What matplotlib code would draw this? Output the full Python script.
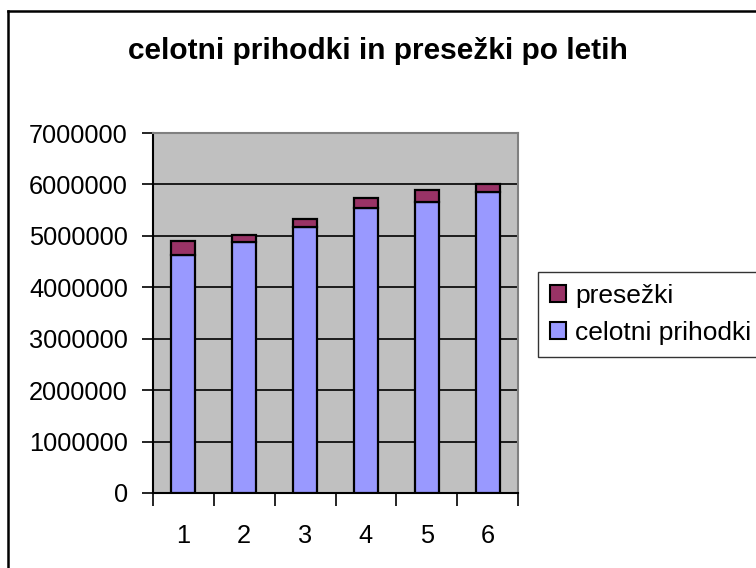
import matplotlib
matplotlib.use("Agg")
import matplotlib.pyplot as plt
from matplotlib.patches import Patch
from matplotlib.lines import Line2D

# Data
leta = ['1', '2', '3', '4', '5', '6']
celotni_prihodki = [4633000, 4886000, 5166000, 5541000, 5664000, 5847000]
presezki = [267000, 136000, 162000, 189000, 227000, 167000]
y_ticks = [0, 1000000, 2000000, 3000000, 4000000, 5000000, 6000000, 7000000]
title = 'celotni prihodki in presežki po letih'
series_names = ['presežki', 'celotni prihodki']

W, H = 756, 568
plt.rcParams['font.family'] = ['Liberation Sans', 'DejaVu Sans']
fig = plt.figure(figsize=(W / 100, H / 100), dpi=100)
fig.patch.set_facecolor('white')

ax = fig.add_axes([153 / W, 1 - 493 / H, (518 - 153) / W, (493 - 133) / H])
ax.set_facecolor('#C0C0C0')

x = list(range(len(leta)))
c_blue = '#9999FF'
c_purple = '#993366'
ax.bar(x, celotni_prihodki, width=0.395, color=c_blue, edgecolor='black',
       linewidth=1.6, zorder=3)
ax.bar(x, presezki, width=0.395, bottom=celotni_prihodki, color=c_purple,
       edgecolor='black', linewidth=1.6, zorder=3)

ax.set_xlim(-0.5, len(leta) - 0.5)
ax.set_ylim(0, 7000000)
ax.set_yticks(y_ticks)
ax.set_yticklabels([str(v) for v in y_ticks], fontsize=18.3)
ax.yaxis.grid(True, color='black', linewidth=1.2, zorder=1)
ax.set_axisbelow(True)

# x ticks at category boundaries, labels at centers
ax.set_xticks([i - 0.5 for i in range(len(leta) + 1)])
ax.set_xticklabels([])
ax.set_xticks(x, minor=True)
ax.set_xticklabels(leta, minor=True, fontsize=18.3)
ax.tick_params(axis='x', which='minor', length=0, pad=22)
ax.tick_params(axis='x', which='major', length=9, width=1.2, direction='out')
ax.tick_params(axis='y', length=8, width=1.2, direction='out', pad=10)

for s in ['top', 'right']:
    ax.spines[s].set_color('#808080')
    ax.spines[s].set_linewidth(1.5)
for s in ['left', 'bottom']:
    ax.spines[s].set_color('black')
    ax.spines[s].set_linewidth(1.5)

fig.text(378 / W, 1 - 51 / H, title, ha='center', va='center',
         fontsize=21.5, fontweight='bold')

handles = [Patch(facecolor=c_purple, edgecolor='black', linewidth=1.5),
           Patch(facecolor=c_blue, edgecolor='black', linewidth=1.5)]
leg = fig.legend(handles, series_names, loc='upper left',
                 bbox_to_anchor=(538 / W, 1 - 272 / H), fontsize=19,
                 frameon=True, fancybox=False, handlelength=0.6,
                 handleheight=0.6, handletextpad=0.35, labelspacing=0.5,
                 borderpad=0.45, borderaxespad=0)
leg.get_frame().set_edgecolor('black')
leg.get_frame().set_linewidth(1.0)

# chart area border (extends beyond the right/bottom edges)
fig.add_artist(Line2D([7.5 / W, 7.5 / W], [1 - 11 / H, -0.05], color='black',
                      linewidth=1.8, transform=fig.transFigure))
fig.add_artist(Line2D([7.5 / W, 1.05], [1 - 11 / H, 1 - 11 / H], color='black',
                      linewidth=1.8, transform=fig.transFigure))

fig.savefig('out.png', dpi=100)
